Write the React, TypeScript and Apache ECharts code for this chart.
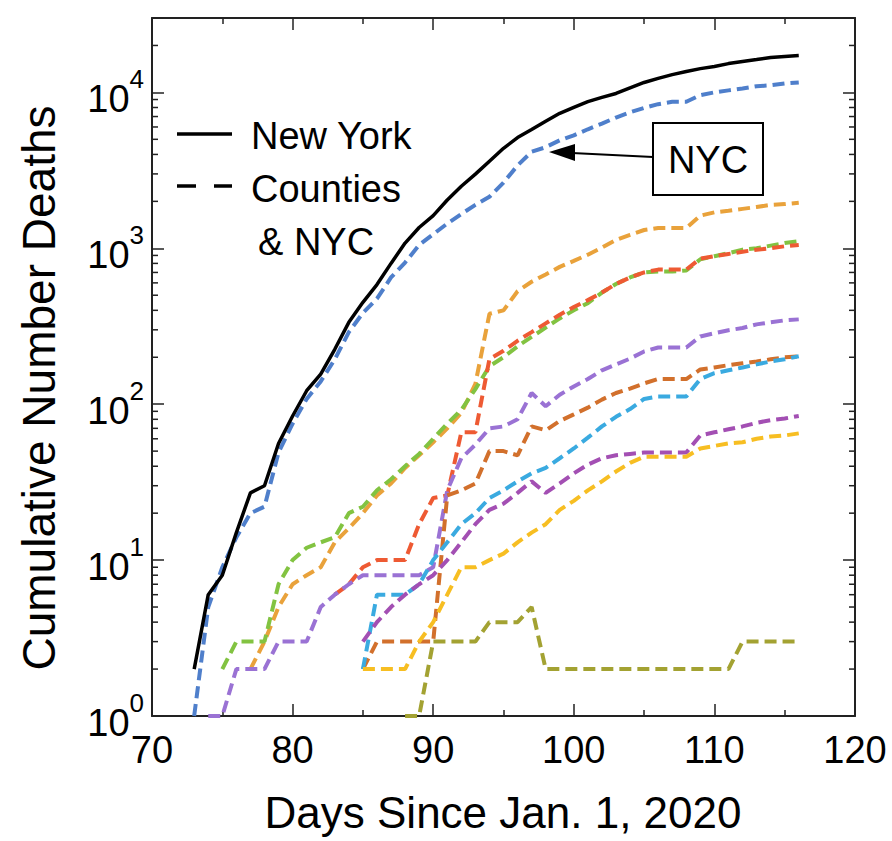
import React, { useEffect, useRef } from "react";
import * as echarts from "echarts";

const FONT = '"Liberation Sans", Arial, Helvetica, sans-serif';

// Days since Jan. 1, 2020
const days = [
  73, 74, 75, 76, 77, 78, 79, 80, 81, 82, 83, 84, 85, 86, 87, 88, 89, 90, 91, 92, 93, 94,
  95, 96, 97, 98, 99, 100, 101, 102, 103, 104, 105, 106, 107, 108, 109, 110, 111, 112, 113, 114, 115, 116,
];

const newYorkState = [
  2, 6, 8, 15, 27, 30, 56, 84, 122, 156, 225, 335, 450, 585, 800, 1080, 1360, 1620, 2040, 2500, 2990, 3620,
  4380, 5130, 5780, 6530, 7340, 8020, 8720, 9290, 9840, 10700, 11580, 12300, 13000, 13600, 14200, 14650, 15300, 15780, 16230, 16750, 17000, 17230,
];

const nyc = [
  1, 5, 9, 14, 20, 22, 49, 75, 108, 140, 194, 290, 385, 475, 650, 810, 1050, 1230, 1440, 1660, 1900, 2140,
  2640, 3400, 4160, 4450, 4930, 5300, 5800, 6300, 6900, 7450, 7950, 8400, 8700, 8700, 9600, 10000, 10300, 10600, 10950, 11100, 11400, 11580,
];

const countyOrange = [
  null, null, null, null, 2, 3, 5, 7, 8, 9, 13, 16, 20, 26, 31, 39, 47, 57, 70, 88, 135, 380,
  400, 530, 610, 680, 760, 830, 910, 1010, 1130, 1220, 1310, 1350, 1350, 1350, 1620, 1700, 1740, 1790, 1840, 1900, 1920, 1960,
];

const countyRed = [
  null, null, null, null, null, null, null, null, null, null, 6, 7, 9, 10, 10, 10, 17, 25, 26, 66, 66, 195,
  220, 255, 290, 330, 375, 420, 465, 520, 590, 650, 700, 730, 730, 730, 860, 890, 920, 950, 980, 1000, 1030, 1050,
];

const countyGreen = [
  null, null, 2, 3, 3, 3, 7, 10, 12, 13, 14, 20, 22, 28, 33, 40, 48, 60, 75, 92, 125, 175,
  200, 235, 270, 310, 355, 400, 445, 520, 590, 650, 700, 710, 710, 720, 850, 890, 930, 980, 1000, 1040, 1080, 1110,
];

const countyLavender = [
  null, 1, 1, 2, 2, 2, 3, 3, 3, 5, 6, 7, 8, 8, 8, 8, 8, 9, 28, 45, 55, 70,
  72, 80, 118, 97, 115, 130, 145, 165, 180, 196, 218, 231, 231, 231, 272, 285, 298, 308, 325, 335, 345, 350,
];

const countyBrown = [
  null, null, null, null, null, null, null, null, null, null, null, null, 2, 3, 3, 3, 3, 3, 26, 28, 31, 50,
  50, 47, 72, 68, 78, 86, 95, 107, 118, 126, 136, 145, 145, 145, 167, 172, 178, 183, 188, 194, 200, 203,
];

const countyLightBlue = [
  null, null, null, null, null, null, null, null, null, null, null, null, 2, 6, 6, 6, 7, 10, 13, 17, 20, 25,
  28, 32, 36, 39, 45, 52, 61, 72, 83, 93, 108, 112, 112, 112, 145, 158, 165, 172, 180, 188, 194, 203,
];

const countyMagenta = [
  null, null, null, null, null, null, null, null, null, null, null, null, 3, 4, 5, 6, 7, 8, 10, 13, 17, 21,
  23, 27, 32, 27, 31, 36, 41, 45, 47, 48, 49, 49, 49, 49, 63, 66, 69, 72, 76, 79, 81, 84,
];

const countyYellow = [
  null, null, null, null, null, null, null, null, null, null, null, null, 2, 2, 2, 2, 3, 4, 6, 9, 9, 10,
  11, 13, 15, 17, 21, 24, 28, 32, 37, 42, 46, 46, 46, 46, 52, 54, 56, 57, 60, 62, 63, 65,
];

const countyOlive = [
  null, null, null, null, null, null, null, null, null, null, null, null, null, null, null, 1, 1, 3, 3, 3, 3, 4,
  4, 4, 5, 2, 2, 2, 2, 2, 2, 2, 2, 2, 2, 2, 2, 2, 2, 3, 3, 3, 3, 3,
];

const counties = [
  { name: "County 1", values: countyOrange, color: "#E9A23B" },
  { name: "County 2", values: countyGreen, color: "#82C341" },
  { name: "County 3", values: countyRed, color: "#EE5A33" },
  { name: "County 4", values: countyLavender, color: "#9A72D4" },
  { name: "County 5", values: countyBrown, color: "#D2702C" },
  { name: "County 6", values: countyLightBlue, color: "#3AAAE0" },
  { name: "County 7", values: countyMagenta, color: "#A34FB3" },
  { name: "County 8", values: countyYellow, color: "#F7BE22" },
  { name: "County 9", values: countyOlive, color: "#A3A232" },
];

const xTicks = { min: 70, max: 120, interval: 10 };
const yRange = { min: 1, max: 30000 };

const minorYTicks: number[] = [];
for (let d = 1; d <= 10000; d *= 10) {
  for (let m = 2; m <= 9; m++) {
    if (m * d < yRange.max) minorYTicks.push(m * d);
  }
}

function pairs(vals: (number | null)[]) {
  const out: [number, number][] = [];
  vals.forEach((v, i) => {
    if (v !== null && v !== undefined) out.push([days[i], v]);
  });
  return out;
}

const AXIS_COLOR = "#222";

export default function App() {
  const ref = useRef<HTMLDivElement>(null);

  useEffect(() => {
    if (!ref.current) return;
    const chart = echarts.init(ref.current, undefined, { renderer: "svg" });

    const xAxisBase = {
      type: "value",
      min: xTicks.min,
      max: xTicks.max,
      interval: xTicks.interval,
      axisLine: { show: true, onZero: false, lineStyle: { color: AXIS_COLOR, width: 2 } },
      axisTick: { show: true, inside: true, length: 12, lineStyle: { color: AXIS_COLOR, width: 1.5 } },
      minorTick: { show: true, splitNumber: 2, length: 6, lineStyle: { color: AXIS_COLOR, width: 1.5 } },
      splitLine: { show: false },
    };

    const yAxisBase = {
      type: "log",
      logBase: 10,
      min: yRange.min,
      max: yRange.max,
      axisLine: { show: true, onZero: false, lineStyle: { color: AXIS_COLOR, width: 2 } },
      axisTick: { show: true, inside: true, length: 12, lineStyle: { color: AXIS_COLOR, width: 1.5 } },
      splitLine: { show: false },
    };

    const countySeries = counties.map((c) => ({
      name: c.name,
      type: "line",
      data: pairs(c.values),
      showSymbol: false,
      symbol: "none",
      lineStyle: { color: c.color, width: 4, type: [12, 6], cap: "butt" },
      z: 3,
    }));

    const option = {
      animation: false,
      backgroundColor: "#ffffff",
      grid: { left: 152, right: 37, top: 18, bottom: 125, containLabel: false },
      xAxis: [
        {
          ...xAxisBase,
          position: "bottom",
          axisLabel: { fontSize: 38, fontFamily: FONT, color: "#000", margin: 15 },
        },
        {
          ...xAxisBase,
          position: "top",
          axisLabel: { show: false },
        },
      ],
      yAxis: [
        {
          ...yAxisBase,
          position: "left",
          axisLabel: {
            margin: 8,
            formatter: (v: number) => {
              const l = Math.log10(v);
              const e = Math.round(l);
              if (Math.abs(l - e) > 1e-6) return "";
              return `{b|10}{s|${e}}`;
            },
            rich: {
              b: { fontSize: 38, fontFamily: FONT, color: "#000", padding: [14, 0, 0, 0] },
              s: { fontSize: 26, fontFamily: FONT, color: "#000", verticalAlign: "top" },
            },
          },
        },
        {
          ...yAxisBase,
          position: "right",
          axisLabel: { show: false },
        },
      ],
      series: [
        ...countySeries,
        {
          name: "NYC",
          type: "line",
          data: pairs(nyc),
          showSymbol: false,
          symbol: "none",
          lineStyle: { color: "#4F7FCB", width: 4, type: [12, 6], cap: "butt" },
          z: 4,
        },
        {
          name: "New York",
          type: "line",
          data: pairs(newYorkState),
          showSymbol: false,
          symbol: "none",
          lineStyle: { color: "#000", width: 3.5 },
          z: 5,
        },
        {
          name: "minorTicks",
          type: "custom",
          silent: true,
          clip: false,
          z: 10,
          data: minorYTicks.map((v) => [xTicks.min, v]),
          renderItem: (params: any, api: any) => {
            const v = api.value(1);
            const pL = api.coord([xTicks.min, v]);
            const pR = api.coord([xTicks.max, v]);
            const st = { stroke: AXIS_COLOR, lineWidth: 1.5 };
            return {
              type: "group",
              children: [
                { type: "line", shape: { x1: pL[0], y1: pL[1], x2: pL[0] + 6, y2: pL[1] }, style: st },
                { type: "line", shape: { x1: pR[0], y1: pR[1], x2: pR[0] - 6, y2: pR[1] }, style: st },
              ],
            };
          },
        },
      ],
      graphic: [
        // legend
        { type: "line", shape: { x1: 177, y1: 134, x2: 232, y2: 134 }, style: { stroke: "#000", lineWidth: 3.5 } },
        { type: "line", shape: { x1: 177, y1: 186, x2: 196, y2: 186 }, style: { stroke: "#000", lineWidth: 3.5 } },
        { type: "line", shape: { x1: 214, y1: 186, x2: 232, y2: 186 }, style: { stroke: "#000", lineWidth: 3.5 } },
        { type: "text", x: 251, y: 136, style: { text: "New York", font: `38px ${FONT}`, fill: "#000", verticalAlign: "middle" } },
        { type: "text", x: 251, y: 189, style: { text: "Counties", font: `38px ${FONT}`, fill: "#000", verticalAlign: "middle" } },
        { type: "text", x: 258, y: 242, style: { text: "& NYC", font: `38px ${FONT}`, fill: "#000", verticalAlign: "middle" } },
        // NYC annotation
        { type: "rect", shape: { x: 653, y: 123, width: 110, height: 72 }, style: { stroke: "#000", lineWidth: 2, fill: "#fff" } },
        { type: "text", x: 708, y: 160, style: { text: "NYC", font: `38px ${FONT}`, fill: "#000", align: "center", verticalAlign: "middle" } },
        { type: "line", shape: { x1: 653, y1: 157, x2: 572, y2: 153 }, style: { stroke: "#000", lineWidth: 2 } },
        { type: "polygon", shape: { points: [[549, 152], [575, 144], [575, 161]] }, style: { fill: "#000" } },
        // axis titles
        { type: "text", x: 503, y: 812, style: { text: "Days Since Jan. 1, 2020", font: `44px ${FONT}`, fill: "#000", align: "center", verticalAlign: "middle" } },
        { type: "text", x: 39, y: 388, rotation: Math.PI / 2, style: { text: "Cumulative Number Deaths", font: `46px ${FONT}`, fill: "#000", align: "center", verticalAlign: "middle" } },
      ],
    };

    chart.setOption(option as any);
    return () => chart.dispose();
  }, []);

  return (
    <div
      ref={ref}
      style={{ position: "fixed", left: 0, top: 0, width: 892, height: 841, background: "#fff" }}
    />
  );
}
